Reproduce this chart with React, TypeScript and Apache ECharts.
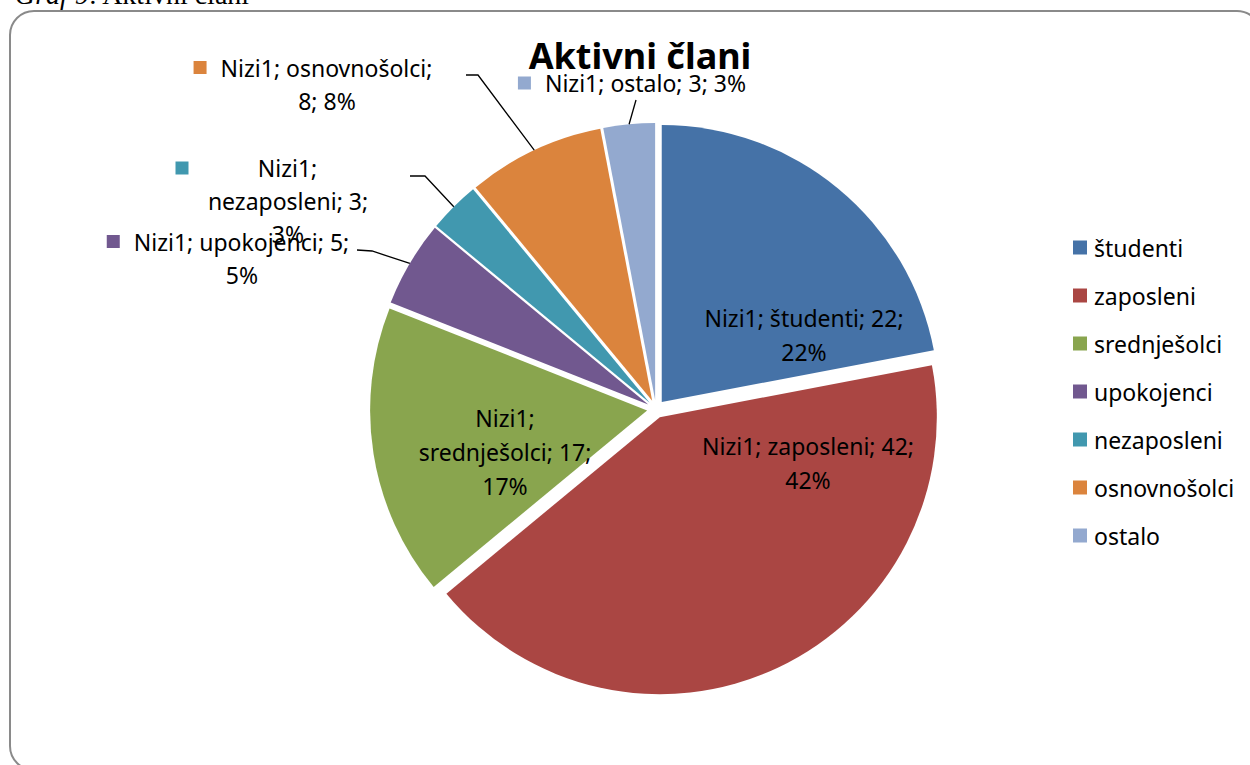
import React, { useEffect, useRef } from "react";
import * as echarts from "echarts";

// ---- data ----
const seriesName = "Nizi1";
const categories = ["študenti", "zaposleni", "srednješolci", "upokojenci", "nezaposleni", "osnovnošolci", "ostalo"];
const values = [22, 42, 17, 5, 3, 8, 3];
const chartTitle = "Aktivni člani";
const captionLead = "Graf 9";
const captionRest = ": Aktivni člani";

// ---- style ----
const colors = ["#4572A7", "#AA4643", "#89A54E", "#71588F", "#4198AF", "#DB843D", "#93A9CF"];
const FONT = "'Noto Sans', sans-serif";
const LABEL_SIZE = 23;
const CENTER = [656, 409];
const RADIUS = 277;
const EXPLODE = 9;
// how the parts [series; name; value; percent] are wrapped in each label (indices after which a line break falls)
const wraps: number[][] = [[2], [2], [0, 2], [2], [0, 2], [1], []];
const outside = [false, false, false, true, true, true, true];
// label centres
const labelPos: number[][] = [
  [804, 335],
  [808, 463],
  [505, 452],
  [228, 258],
  [274, 201],
  [313, 84],
  [632, 83],
];
// leader-line knee and end points for outside labels
const leaders: Record<number, number[][]> = {
  3: [[372, 251], [357, 250]],
  4: [[425, 176], [410, 176]],
  5: [[478, 75], [466, 75]],
  6: [[636, 100], [636, 100]],
};
const blockWidth: Record<number, number> = { 4: 170 };

export default function App() {
  const ref = useRef<HTMLDivElement>(null);
  useEffect(() => {
    if (!ref.current) return;
    const chart = echarts.init(ref.current, undefined, { renderer: "svg" });

    const rich: any = {
      sp: { width: 14, height: 14 },
      g: { width: 14 },
    };
    categories.forEach((_, i) => {
      rich["sq" + i] = { width: 13, height: 13, backgroundColor: colors[i], verticalAlign: "middle" };
      rich["t" + i] = {
        fontSize: LABEL_SIZE,
        fontFamily: FONT,
        color: "#000",
        lineHeight: 33,
        align: "center",
        ...(blockWidth[i] ? { width: blockWidth[i] } : {}),
      };
    });

    // exploded, coloured slices (no labels)
    const sliceData = categories.map((name, i) => ({
      name,
      value: values[i],
      selected: true,
      itemStyle: { color: colors[i] },
    }));

    // transparent twin that carries the labels and leader lines
    const labelData = categories.map((name, i) => ({
      name,
      value: values[i],
      itemStyle: { color: "rgba(0,0,0,0)" },
      label: outside[i]
        ? { position: "outside", lineHeight: 33, rich }
        : { position: "inside", lineHeight: 34 },
      labelLine: outside[i]
        ? { show: true, lineStyle: { color: "#000", width: 1.3 } }
        : { show: false },
    }));

    const option: any = {
      animation: false,
      backgroundColor: "#fff",
      graphic: [
        {
          type: "rect",
          shape: { x: 10, y: 11, width: 1251, height: 759, r: 24 },
          style: { fill: "none", stroke: "#8a8a8a", lineWidth: 2 },
          z: 0,
        },
        {
          type: "text",
          x: 15,
          y: -6,
          style: {
            text: "{i|" + captionLead + "}{r|" + captionRest + "}",
            verticalAlign: "middle",
            rich: {
              i: { fontFamily: "'Liberation Serif', serif", fontStyle: "italic", fontSize: 28, fill: "#000" },
              r: { fontFamily: "'Liberation Serif', serif", fontSize: 28, fill: "#000" },
            },
          },
        },
        {
          type: "text",
          x: 640,
          y: 55,
          z: 10,
          style: {
            text: chartTitle,
            fontFamily: FONT,
            fontWeight: "bold",
            fontSize: 36,
            fill: "#000",
            align: "center",
            verticalAlign: "middle",
          },
        },
      ],
      legend: {
        orient: "vertical",
        left: 1073,
        top: 236,
        padding: 0,
        itemWidth: 14,
        itemHeight: 14,
        itemGap: 25,
        icon: "rect",
        selectedMode: false,
        data: categories,
        textStyle: { fontFamily: FONT, fontSize: 23, color: "#000", lineHeight: 22, padding: [0, 0, 0, 2] },
      },
      series: [
        {
          type: "pie",
          name: seriesName,
          center: CENTER,
          radius: RADIUS,
          startAngle: 90,
          clockwise: true,
          selectedMode: "multiple",
          selectedOffset: EXPLODE,
          emphasis: { disabled: true },
          itemStyle: { borderWidth: 0 },
          label: { show: false },
          labelLine: { show: false },
          data: sliceData,
        },
        {
          type: "pie",
          name: seriesName,
          center: CENTER,
          radius: RADIUS,
          startAngle: 90,
          clockwise: true,
          selectedMode: false,
          silent: true,
          avoidLabelOverlap: false,
          emphasis: { disabled: true },
          itemStyle: { borderWidth: 0 },
          z: 3,
          label: {
            show: true,
            fontFamily: FONT,
            fontSize: LABEL_SIZE,
            color: "#000",
            align: "center",
            formatter: (p: any) => {
              const i = p.dataIndex;
              const parts = [seriesName, p.name, String(p.value), Math.round(p.percent) + "%"];
              const lines: string[] = [];
              let cur = "";
              parts.forEach((s, k) => {
                cur += s;
                if (k === parts.length - 1) {
                  lines.push(cur);
                } else if (wraps[i].includes(k)) {
                  lines.push(cur + ";");
                  cur = "";
                } else {
                  cur += "; ";
                }
              });
              if (!outside[i]) return lines.join("\n");
              return lines
                .map((ln, k) => (k === 0 ? "{sq" + i + "|}{g|}" : "{sp|}{g|}") + "{t" + i + "|" + ln + "}")
                .join("\n");
            },
          },
          labelLayout: (params: any) => {
            const i = params.dataIndex;
            const out: any = { x: labelPos[i][0], y: labelPos[i][1], align: "center", verticalAlign: "middle" };
            if (outside[i] && params.labelLinePoints) {
              const p = params.labelLinePoints[0];
              const dx = p[0] - CENTER[0];
              const dy = p[1] - CENTER[1];
              const len = Math.sqrt(dx * dx + dy * dy) || 1;
              const p0 = [p[0] + (dx / len) * EXPLODE, p[1] + (dy / len) * EXPLODE];
              const [knee, end] = leaders[i];
              out.labelLinePoints = [p0, knee, end];
            }
            return out;
          },
          data: labelData,
        },
      ],
    };
    chart.setOption(option);
    return () => chart.dispose();
  }, []);
  return <div ref={ref} style={{ position: "absolute", left: 0, top: 0, width: 1250, height: 765 }} />;
}
